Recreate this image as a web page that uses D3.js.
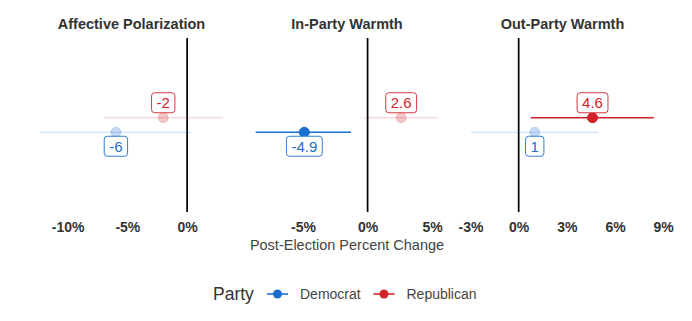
<html>
<head>
  <script src="https://d3js.org/d3.v7.min.js"></script>
</head>
<style>
  body { margin: 0; background: #fff; }
  text { font-family: "Liberation Sans", Arial, sans-serif; }
  .title { font-weight: bold; font-size: 14.5px; fill: #333; }
  .tick text { font-weight: bold; font-size: 14px; fill: #333; }
</style>
<body>
  <svg id="chart" width="692" height="321"></svg>
  <script>

    // panels and tick labels
    const panels = ["Affective Polarization", "In-Party Warmth", "Out-Party Warmth"];
    const panelTicks = [[-10, -5, 0], [-5, 0, 5], [-3, 0, 3, 6, 9]];
    const parties = ["Democrat", "Republican"];

    // estimates and intervals (percent change), one value per panel
    const demEst = [-5.96, -4.9, 1.0];
    const demLo = [-12.3, -8.67, -2.96];
    const demHi = [0.35, -1.28, 4.98];
    const demSig = [false, true, false];

    const repEst = [-2.0, 2.6, 4.6];
    const repLo = [-6.96, -0.26, 0.75];
    const repHi = [2.99, 5.48, 8.42];
    const repSig = [false, false, true];

    const colors = { Democrat: "#1a6fcf", Republican: "#d0232a" };

    const svg = d3.select("svg#chart");
    const panelW = 201, panelGap = 14.5, left0 = 31;
    const panelTop = 38, panelBottom = 212;

    const pct = v => (v < 0 ? "-" : "") + Math.abs(v) + "%";
    const lab = v => {
      let r = Math.round(v * 10) / 10;
      return (r < 0 ? "-" : "") + Math.abs(r);
    };

    panels.forEach((name, i) => {
      const x0 = left0 + i * (panelW + panelGap);
      const g = svg.append("g").attr("transform", `translate(${x0},0)`);

      const rows = [
        { party: "Democrat", est: demEst[i], lo: demLo[i], hi: demHi[i], sig: demSig[i] },
        { party: "Republican", est: repEst[i], lo: repLo[i], hi: repHi[i], sig: repSig[i] }
      ];

      // free x scale per facet, 5% expansion like ggplot
      let lo = d3.min(rows, d => d.lo), hi = d3.max(rows, d => d.hi);
      let pad = (hi - lo) * 0.05;
      const x = d3.scaleLinear().domain([lo - pad, hi + pad]).range([0, panelW]);
      const y = d3.scalePoint().domain(["Republican", "Democrat"]).range([panelTop, panelBottom]).padding(5.5);

      g.append("text").attr("class", "title")
        .attr("x", panelW / 2).attr("y", 28.5)
        .attr("text-anchor", "middle").text(name);

      // zero line
      g.append("line")
        .attr("x1", x(0)).attr("x2", x(0))
        .attr("y1", panelTop).attr("y2", panelBottom)
        .attr("stroke", "#000").attr("stroke-width", 1.7);

      const axis = d3.axisBottom(x).tickValues(panelTicks[i]).tickFormat(pct)
        .tickSize(0).tickPadding(10);
      g.append("g").attr("transform", `translate(0,${panelBottom})`).call(axis)
        .call(a => a.select(".domain").remove());

      rows.forEach(d => {
        const c = colors[d.party];
        const op = d.sig ? 1 : 0.25;
        g.append("line")
          .attr("x1", x(d.lo)).attr("x2", x(d.hi))
          .attr("y1", y(d.party)).attr("y2", y(d.party))
          .attr("stroke", c).attr("stroke-opacity", op)
          .attr("stroke-width", d.sig ? 1.6 : 1.2);
        g.append("circle")
          .attr("cx", x(d.est)).attr("cy", y(d.party)).attr("r", 5)
          .attr("fill", c).attr("fill-opacity", d.sig ? 1 : 0.25)
          .attr("stroke", c).attr("stroke-opacity", d.sig ? 1 : 0.2);
      });

      rows.forEach(d => {
        const c = colors[d.party];
        const t = lab(d.est);
        const lg = g.append("g");
        const txt = lg.append("text")
          .attr("x", x(d.est))
          .attr("text-anchor", "middle")
          .attr("font-size", 15)
          .attr("fill", c)
          .text(t);
        const w = txt.node().getComputedTextLength() + 10;
        const h = 20;
        const by = d.party === "Republican" ? y(d.party) - 5 - h : y(d.party) + 4;
        txt.attr("y", by + 15.5);
        lg.insert("rect", "text")
          .attr("x", x(d.est) - w / 2).attr("y", by)
          .attr("width", w).attr("height", h)
          .attr("rx", 3)
          .attr("fill", "#fff").attr("stroke", c).attr("stroke-width", 0.9);
      });
    });

    // x axis title
    const midX = left0 + (3 * panelW + 2 * panelGap) / 2;
    svg.append("text")
      .attr("x", midX).attr("y", 250)
      .attr("text-anchor", "middle")
      .attr("font-size", 14.5).attr("fill", "#444")
      .text("Post-Election Percent Change");

    // legend
    const leg = svg.append("g");
    leg.append("text").attr("x", 213).attr("y", 300)
      .attr("font-size", 17.5).attr("fill", "#333").text("Party");
    const keyX = { Democrat: 267, Republican: 373.5 };
    parties.forEach(p => {
      const k = leg.append("g").attr("transform", `translate(${keyX[p]},294)`);
      k.append("line").attr("x1", 0).attr("x2", 21).attr("stroke", colors[p]).attr("stroke-width", 1.6);
      k.append("circle").attr("cx", 10.5).attr("r", 4.5).attr("fill", colors[p]);
      k.append("text").attr("x", 33).attr("y", 5).attr("font-size", 14).attr("fill", "#444").text(p);
    });

  </script>
</body>
</html>
